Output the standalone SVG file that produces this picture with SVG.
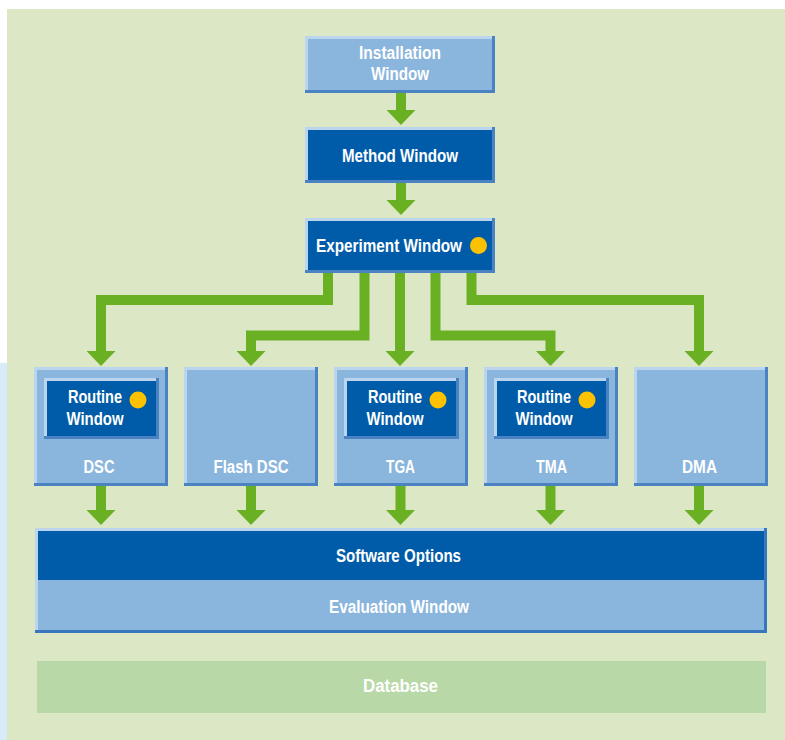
<svg xmlns="http://www.w3.org/2000/svg" width="785" height="740" viewBox="0 0 785 740">
<defs>
<style>
.t{font-family:"Liberation Sans",Arial,sans-serif;font-weight:bold;font-size:17.5px;fill:#ffffff;text-anchor:middle}
.lb{fill:#8ab5dd}
.db{fill:#005ca9}
.hl{fill:none;stroke:#bcd5ee;stroke-width:3}
.sh{fill:none;stroke:#4a82c2;stroke-width:3}
.dot{fill:#fcc200}
.c{fill:none;stroke:#6ab023;stroke-width:10;stroke-linejoin:miter}
</style>
<marker id="ah" markerUnits="userSpaceOnUse" markerWidth="15" markerHeight="29" refX="0" refY="14.5" orient="auto" viewBox="0 0 15 29">
<path d="M0,0 L15,14.5 L0,29 z" fill="#6ab023"/>
</marker>
</defs>
<rect x="0" y="0" width="785" height="740" fill="#ffffff"/>
<rect x="7" y="9" width="778" height="731" fill="#dbe7c5"/>
<rect x="0" y="363" width="7" height="377" fill="#d8ebf8"/>

<g id="connectors">
<path class="c" d="M401,93 V110" marker-end="url(#ah)"/>
<path class="c" d="M401,183 V200" marker-end="url(#ah)"/>
<path class="c" d="M328,273 V300 H101 V351" marker-end="url(#ah)"/>
<path class="c" d="M364.5,273 V335.5 H251 V351" marker-end="url(#ah)"/>
<path class="c" d="M400,273 V351" marker-end="url(#ah)"/>
<path class="c" d="M435.5,273 V335.5 H550.5 V351" marker-end="url(#ah)"/>
<path class="c" d="M471.5,273 V300 H699 V351" marker-end="url(#ah)"/>
<path class="c" d="M101,486 V510" marker-end="url(#ah)"/>
<path class="c" d="M251,486 V510" marker-end="url(#ah)"/>
<path class="c" d="M400.5,486 V510" marker-end="url(#ah)"/>
<path class="c" d="M550.5,486 V510" marker-end="url(#ah)"/>
<path class="c" d="M699,486 V510" marker-end="url(#ah)"/>
</g>

<g id="installation">
<rect class="lb" x="305" y="36" width="190" height="57"/>
<path class="hl" d="M306.5,93 V37.5 H495"/>
<path class="sh" d="M493.5,36 V91.5 H305"/>
<text class="t" x="400" y="59" textLength="82" lengthAdjust="spacingAndGlyphs">Installation</text>
<text class="t" x="400" y="80" textLength="58" lengthAdjust="spacingAndGlyphs">Window</text>
</g>

<g id="method">
<rect class="db" x="305" y="127" width="190" height="56"/>
<path class="hl" d="M306.5,183 V128.5 H495"/>
<path class="sh" d="M493.5,127 V181.5 H305"/>
<text class="t" x="400" y="162" textLength="116" lengthAdjust="spacingAndGlyphs">Method Window</text>
</g>

<g id="experiment">
<rect class="db" x="305" y="218" width="190" height="55"/>
<path class="hl" d="M306.5,273 V219.5 H495"/>
<path class="sh" d="M493.5,218 V271.5 H305"/>
<text class="t" x="389" y="252" textLength="146" lengthAdjust="spacingAndGlyphs">Experiment Window</text>
<circle class="dot" cx="478.5" cy="245.5" r="8.5"/>
</g>

<g id="dsc">
<rect class="lb" x="34" y="367" width="134" height="119"/>
<path class="hl" d="M35.5,486 V368.5 H168"/>
<path class="sh" d="M166.5,367 V484.5 H34"/>
<rect class="db" x="44" y="378" width="115" height="61"/>
<path class="hl" d="M45.5,439 V379.5 H159"/>
<path class="sh" d="M157.5,378 V437.5 H44"/>
<text class="t" x="95" y="403" textLength="54" lengthAdjust="spacingAndGlyphs">Routine</text>
<text class="t" x="95" y="425" textLength="57" lengthAdjust="spacingAndGlyphs">Window</text>
<circle class="dot" cx="138" cy="400" r="8.5"/>
<text class="t" x="99" y="473" textLength="31" lengthAdjust="spacingAndGlyphs">DSC</text>
</g>

<g id="flashdsc">
<rect class="lb" x="184" y="367" width="134" height="119"/>
<path class="hl" d="M185.5,486 V368.5 H318"/>
<path class="sh" d="M316.5,367 V484.5 H184"/>
<text class="t" x="251" y="473" textLength="75" lengthAdjust="spacingAndGlyphs">Flash DSC</text>
</g>

<g id="tga">
<rect class="lb" x="334" y="367" width="134" height="119"/>
<path class="hl" d="M335.5,486 V368.5 H468"/>
<path class="sh" d="M466.5,367 V484.5 H334"/>
<rect class="db" x="344" y="378" width="115" height="61"/>
<path class="hl" d="M345.5,439 V379.5 H459"/>
<path class="sh" d="M457.5,378 V437.5 H344"/>
<text class="t" x="395" y="403" textLength="54" lengthAdjust="spacingAndGlyphs">Routine</text>
<text class="t" x="395" y="425" textLength="57" lengthAdjust="spacingAndGlyphs">Window</text>
<circle class="dot" cx="438" cy="400" r="8.5"/>
<text class="t" x="400.5" y="473" textLength="29" lengthAdjust="spacingAndGlyphs">TGA</text>
</g>

<g id="tma">
<rect class="lb" x="484" y="367" width="134" height="119"/>
<path class="hl" d="M485.5,486 V368.5 H618"/>
<path class="sh" d="M616.5,367 V484.5 H484"/>
<rect class="db" x="494" y="378" width="115" height="61"/>
<path class="hl" d="M495.5,439 V379.5 H609"/>
<path class="sh" d="M607.5,378 V437.5 H494"/>
<text class="t" x="544" y="403" textLength="54" lengthAdjust="spacingAndGlyphs">Routine</text>
<text class="t" x="544" y="425" textLength="57" lengthAdjust="spacingAndGlyphs">Window</text>
<circle class="dot" cx="587" cy="400" r="8.5"/>
<text class="t" x="551.5" y="473" textLength="31" lengthAdjust="spacingAndGlyphs">TMA</text>
</g>

<g id="dma">
<rect class="lb" x="634" y="367" width="134" height="119"/>
<path class="hl" d="M635.5,486 V368.5 H768"/>
<path class="sh" d="M766.5,367 V484.5 H634"/>
<text class="t" x="699.5" y="473" textLength="35" lengthAdjust="spacingAndGlyphs">DMA</text>
</g>

<g id="software">
<rect class="db" x="35" y="528" width="732" height="52"/>
<rect class="lb" x="35" y="580" width="732" height="53"/>
<path class="hl" d="M36.5,633 V529.5 H767"/>
<path d="M765.5,528 V631.5 H35" fill="none" stroke="#3a76be" stroke-width="3"/>
<text class="t" x="398.5" y="562" textLength="125" lengthAdjust="spacingAndGlyphs">Software Options</text>
<text class="t" x="399" y="613" textLength="140" lengthAdjust="spacingAndGlyphs">Evaluation Window</text>
</g>

<g id="database">
<rect x="37" y="661" width="729" height="52" fill="#b8d8a8"/>
<text class="t" x="400.5" y="692" textLength="75" lengthAdjust="spacingAndGlyphs">Database</text>
</g>
</svg>
